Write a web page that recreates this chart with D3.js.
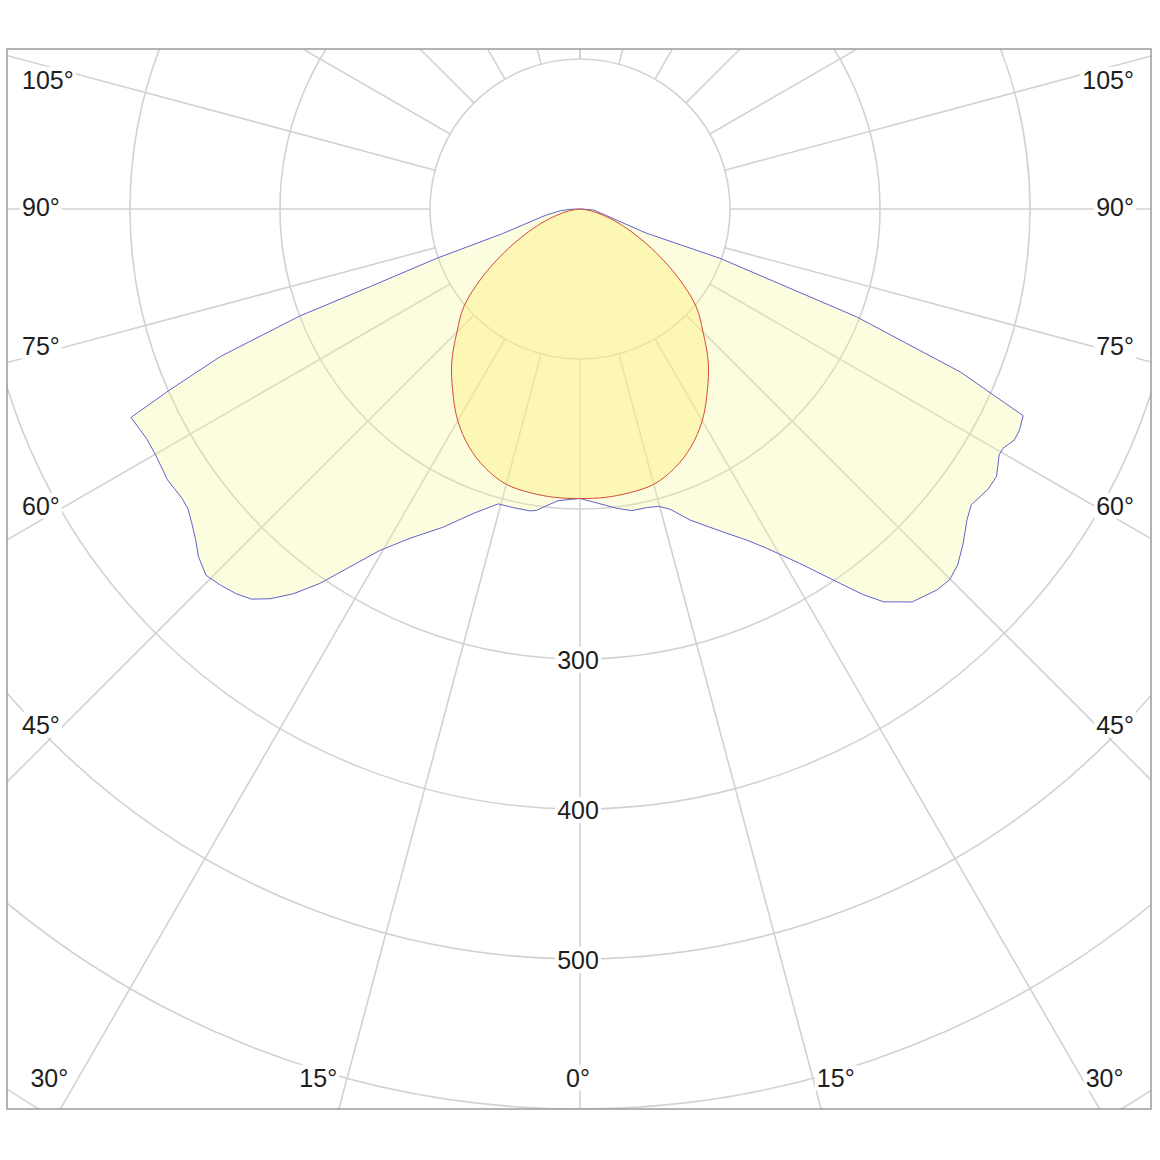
<!DOCTYPE html>
<html>
<head>
<meta charset="utf-8">
<script src="https://cdn.jsdelivr.net/npm/d3@7"></script>
<style>
  html, body { margin: 0; padding: 0; background: #fff; }
  svg { display: block; font-family: "Liberation Sans", Arial, sans-serif; }
</style>
</head>
<body>
<div id="chart"></div>
<script>
// C0-C180 plane (blue): left half (C180) from 90deg down to 0deg, right half (C0) from 0deg up to 90deg
const c180Angles = [90, 88, 85, 79.8, 72.4, 71, 69.7, 69.1, 67.7, 66.2, 65.1, 62.1, 59.9, 56.7, 54, 52.6, 51, 49.3, 47.7, 45.6, 43.8, 41.8, 40.1, 38.5, 36.7, 34.8, 30.4, 27.3, 23.3, 19.3, 15.5, 12.6, 9.4, 8.2, 6.4, 4.3, 0];
const c180Values = [0, 7, 13, 23, 54, 101, 149, 200, 259, 299, 330, 327, 327, 329, 328, 329, 333, 338, 344, 349, 347, 344, 340, 332, 320, 304, 264, 247, 231, 215, 204, 204, 204, 203, 199, 195, 193];
const c0Angles = [3.9, 7, 9.7, 12.6, 14.8, 16.7, 19.5, 23.5, 26.7, 28.8, 31.8, 34.8, 36.3, 37.7, 40.2, 43.1, 44.9, 46.7, 48.9, 51.2, 52.9, 55.5, 57.3, 59.6, 60.5, 62, 63.3, 65, 66.8, 68.7, 70.6, 70, 86, 90];
const c0Values = [197, 201, 204, 204, 205, 209, 220, 234, 247, 258, 278, 304, 319, 331, 343, 348, 349, 346, 339, 331, 327, 330, 330, 324, 324, 328, 328, 326, 276, 198, 99, 47, 9, 0];

// C90-C270 plane (red), symmetric
const c90Angles = [0, 5, 10, 15, 20, 25, 30, 35, 40, 45, 50, 55, 60, 65, 70, 75, 80, 85, 90];
const c90Values = [193, 193, 192, 190, 184, 175, 163, 148, 133, 116, 101, 80, 59, 41, 27, 16, 8, 3, 0];

// grid
const ringValues = [100, 200, 300, 400, 500, 600, 700];
const ringLabels = [300, 400, 500];
const rayAngles = d3.range(-180, 181, 15);
const sideLabels = [105, 90, 75, 60, 45];
const bottomLabels = [-30, -15, 0, 15, 30];

const W = 1160, H = 1160;
const frame = { x0: 7, y0: 49, x1: 1151, y1: 1109 };
const cx = 580, cy = 209;
const r = d3.scaleLinear().domain([0, 100]).range([0, 150]);
const rad = d3.scaleLinear().domain([0, 180]).range([0, Math.PI]);

const svg = d3.select("#chart").append("svg")
  .attr("width", W)
  .attr("height", H);

svg.append("rect").attr("width", W).attr("height", H).attr("fill", "#fff");

svg.append("clipPath").attr("id", "clip")
  .append("rect")
  .attr("x", frame.x0).attr("y", frame.y0)
  .attr("width", frame.x1 - frame.x0).attr("height", frame.y1 - frame.y0);

const g = svg.append("g").attr("clip-path", "url(#clip)");
const plot = g.append("g").attr("transform", `translate(${cx},${cy})`);

// rings
plot.append("g").selectAll("circle")
  .data(ringValues)
  .enter().append("circle")
  .attr("r", d => r(d))
  .attr("fill", "none")
  .attr("stroke", "#d2d2d2")
  .attr("stroke-width", 1.6);

// rays (gamma measured from straight down, left side positive)
plot.append("g").selectAll("line")
  .data(rayAngles)
  .enter().append("line")
  .attr("x1", d => -r(100) * Math.sin(rad(d)))
  .attr("y1", d => r(100) * Math.cos(rad(d)))
  .attr("x2", d => -r(900) * Math.sin(rad(d)))
  .attr("y2", d => r(900) * Math.cos(rad(d)))
  .attr("stroke", "#d2d2d2")
  .attr("stroke-width", 1.6);

// lineRadial: angle 0 = up, clockwise. left side -> PI + gamma, right side -> PI - gamma
const line = d3.lineRadial()
  .angle(d => d.a)
  .radius(d => r(d.v));

const bluePts = c180Angles.map((a, i) => ({ a: Math.PI + rad(a), v: c180Values[i] }))
  .concat(c0Angles.map((a, i) => ({ a: Math.PI - rad(a), v: c0Values[i] })));

const redPts = c90Angles.slice().reverse().map((a, i) => ({ a: Math.PI + rad(a), v: c90Values[c90Values.length - 1 - i] }))
  .concat(c90Angles.slice(1).map((a, i) => ({ a: Math.PI - rad(a), v: c90Values[i + 1] })));

plot.append("path")
  .attr("d", line.curve(d3.curveLinear)(bluePts) + "Z")
  .attr("fill", "#f4f492")
  .attr("fill-opacity", 0.3)
  .attr("stroke", "none");

const redLine = d3.lineRadial().angle(d => d.a).radius(d => r(d.v)).curve(d3.curveCatmullRom);

plot.append("path")
  .attr("d", redLine(redPts) + "Z")
  .attr("fill", "#fff07c")
  .attr("fill-opacity", 0.42)
  .attr("stroke", "none");

plot.append("path")
  .attr("d", line.curve(d3.curveLinear)(bluePts) + "Z")
  .attr("fill", "none")
  .attr("stroke", "#6262cc")
  .attr("stroke-width", 1);

plot.append("path")
  .attr("d", redLine(redPts) + "Z")
  .attr("fill", "none")
  .attr("stroke", "#d44a3c")
  .attr("stroke-width", 1);

// labels with white knock-out
const labels = svg.append("g")
  .style("font-size", "25px")
  .attr("fill", "#1e1e1e");

function addLabel(txt, x, y, anchor) {
  const lg = labels.append("g");
  const t = lg.append("text")
    .attr("x", x).attr("y", y)
    .attr("dy", "0.35em")
    .attr("text-anchor", anchor)
    .text(txt);
  const b = t.node().getBBox();
  lg.insert("rect", "text")
    .attr("x", b.x - 2).attr("y", b.y + 1)
    .attr("width", b.width + 4).attr("height", b.height - 2)
    .attr("fill", "#fff");
}

ringLabels.forEach(v => addLabel(v, cx - 2, cy + r(v) + 1, "middle"));

const insetX = 62;
sideLabels.forEach(a => {
  const dy = (cx - insetX) / Math.tan(rad(a));
  const y = Math.max(82, cy + (Math.abs(dy) > 1e4 ? 0 : dy)) - 2;
  addLabel(a + "°", 22, y, "start");
  addLabel(a + "°", 1134, y, "end");
});

const bottomY = 1078;
bottomLabels.forEach(a => {
  const rayX = cx - (bottomY - cy) * Math.tan(rad(a));
  if (a === 0) addLabel("0°", cx - 2, bottomY, "middle");
  else if (a > 0) addLabel(Math.abs(a) + "°", rayX - 10, bottomY, "end");
  else addLabel(Math.abs(a) + "°", rayX + 4, bottomY, "start");
});

// frame
svg.append("rect")
  .attr("x", frame.x0).attr("y", frame.y0)
  .attr("width", frame.x1 - frame.x0).attr("height", frame.y1 - frame.y0)
  .attr("fill", "none")
  .attr("stroke", "#9a9a9a")
  .attr("stroke-width", 1.5);
</script>
</body>
</html>
